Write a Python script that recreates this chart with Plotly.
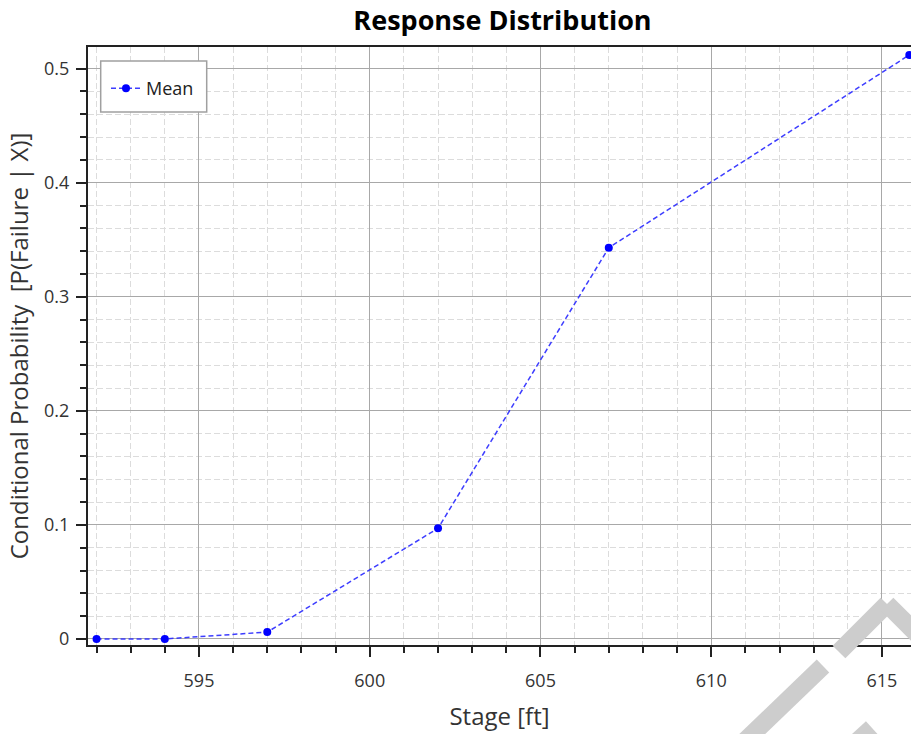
import plotly.graph_objects as go

# Data
stage = [592, 594, 597, 602, 607, 615.8]
mean_prob = [0.0, 0.0, 0.006, 0.097, 0.343, 0.512]

FONT = "Open Sans"

# plot-area pixel geometry (for paper-coordinate helpers)
L, R, T, B = 88, 911, 47, 645


def px(x):
    return (x - L) / (R - L)


def py(y):
    return (B - y) / (B - T)


fig = go.Figure()
fig.add_trace(go.Scatter(
    x=stage, y=mean_prob, mode="lines+markers", name="Mean",
    line=dict(color="rgba(40,40,255,0.9)", width=1.5, dash="5px,3px"),
    marker=dict(color="#0000ff", size=8),
    cliponaxis=True,
))

grid_major = "#a8a8a8"
grid_minor = "#dcdcdc"

fig.update_layout(
    width=911, height=734,
    margin=dict(l=L, r=911 - R, t=T, b=734 - B),
    paper_bgcolor="white", plot_bgcolor="white",
    title=dict(text="<b>Response Distribution</b>", xref="paper", x=px(502.5),
               xanchor="center", yref="container", y=1 - 21 / 734, yanchor="middle",
               font=dict(family=FONT, size=27, color="black")),
    font=dict(family=FONT, color="#333333"),
    showlegend=True,
    legend=dict(x=px(106), y=py(70), xanchor="left", yanchor="top",
                bgcolor="rgba(0,0,0,0)", borderwidth=0,
                font=dict(family=FONT, size=18, color="#222222"),
                itemwidth=30),
    xaxis=dict(
        range=[591.75, 615.85], tick0=595, dtick=5,
        showline=True, linecolor="#222222", linewidth=2, mirror=True,
        ticks="outside", ticklen=10, tickwidth=2, tickcolor="#222222",
        showgrid=True, gridcolor=grid_major, gridwidth=1,
        zeroline=False,
        tickfont=dict(family=FONT, size=18, color="#333333"),
        ticklabelstandoff=8,
        title=dict(text="Stage [ft]", font=dict(family=FONT, size=24, color="#333333"),
                   standoff=18),
        minor=dict(dtick=1, tick0=592, ticks="outside", ticklen=6, tickwidth=2,
                   tickcolor="#222222", showgrid=True, gridcolor=grid_minor,
                   griddash="6px,3px", gridwidth=1),
    ),
    yaxis=dict(
        range=[-0.0053, 0.519], tick0=0, dtick=0.1,
        showline=True, linecolor="#222222", linewidth=2,
        ticks="outside", ticklen=10, tickwidth=2, tickcolor="#222222",
        showgrid=True, gridcolor=grid_major, gridwidth=1,
        zeroline=False,
        tickfont=dict(family=FONT, size=18, color="#333333"),
        ticklabelstandoff=3,
        title=dict(text="Conditional Probability \u00a0[P(Failure | X)]",
                   font=dict(family=FONT, size=24, color="#333333"), standoff=9),
        minor=dict(dtick=0.02, tick0=0, ticks="outside", ticklen=6, tickwidth=2,
                   tickcolor="#222222", showgrid=True, gridcolor=grid_minor,
                   griddash="6px,3px", gridwidth=1),
    ),
)

# legend frame
fig.add_shape(type="rect", xref="paper", yref="paper",
              x0=px(100.7), x1=px(206.7), y0=py(112), y1=py(61),
              line=dict(color="#a0a0a0", width=1.5), fillcolor="white", layer="above")

# watermark stripes (light gray)
wm = "#cdcdcd"
for (x0, y0, x1, y1) in [(745, 741, 823, 666), (839, 652, 887, 604), (887, 604, 935, 652),
                         (850, 748, 872, 728)]:
    fig.add_shape(type="line", xref="paper", yref="paper",
                  x0=px(x0), y0=py(y0), x1=px(x1), y1=py(y1),
                  line=dict(color=wm, width=18), layer="above")

fig.write_html("out.html")
